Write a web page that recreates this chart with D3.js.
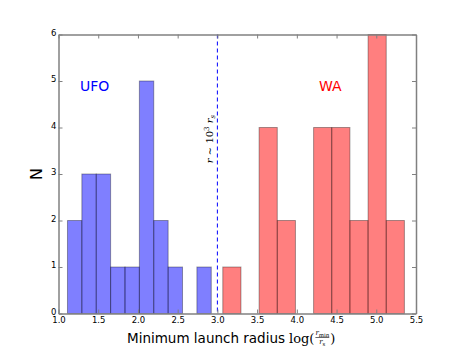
<!DOCTYPE html>
<html>
<head>
<meta charset="utf-8">
<script src="https://cdn.jsdelivr.net/npm/d3@7"></script>
<style>
  body { margin: 0; background: #fff; }
  svg { display: block; }
  text { font-family: "DejaVu Sans", sans-serif; }
</style>
</head>
<body>
<svg id="chart" width="463" height="348"></svg>
<script>
// histogram bins
var ufoStart = 1.113, ufoWidth = 0.181;
var ufoCounts = [2, 3, 3, 1, 1, 5, 2, 1, 0, 1];
var waStart = 3.068, waWidth = 0.2286;
var waCounts = [1, 0, 4, 2, 0, 4, 4, 2, 6, 2];
var xTicks = [1.0, 1.5, 2.0, 2.5, 3.0, 3.5, 4.0, 4.5, 5.0, 5.5];
var yTicks = [0, 1, 2, 3, 4, 5, 6];
var threshold = 3.0;

var margin = { top: 34.5, right: 47, bottom: 34.5, left: 58.5 };
var width = 463, height = 348;

var svg = d3.select("#chart");

var x = d3.scaleLinear().domain([1.0, 5.5]).range([margin.left, width - margin.right]);
var y = d3.scaleLinear().domain([0, 6]).range([height - margin.bottom, margin.top]);

function toBins(start, w, counts) {
  return counts.map(function (c, i) {
    return { x0: start + i * w, x1: start + (i + 1) * w, n: c };
  });
}

function drawBars(bins, color) {
  svg.append("g")
    .selectAll("rect")
    .data(bins.filter(function (d) { return d.n > 0; }))
    .join("rect")
    .attr("x", function (d) { return x(d.x0); })
    .attr("y", function (d) { return y(d.n); })
    .attr("width", function (d) { return x(d.x1) - x(d.x0); })
    .attr("height", function (d) { return y(0) - y(d.n); })
    .attr("fill", color)
    .attr("fill-opacity", 0.5)
    .attr("stroke", "#000")
    .attr("stroke-opacity", 0.35)
    .attr("stroke-width", 1);
}

drawBars(toBins(ufoStart, ufoWidth, ufoCounts), "#0000ff");
drawBars(toBins(waStart, waWidth, waCounts), "#ff0000");

// dashed threshold line
svg.append("line")
  .attr("x1", x(threshold)).attr("x2", x(threshold))
  .attr("y1", y(6)).attr("y2", y(0))
  .attr("stroke", "#0000ff")
  .attr("stroke-width", 1)
  .attr("stroke-dasharray", "4,3");

// rotated label r ~ 10^3 r_s
var rl = svg.append("text")
  .attr("transform", "translate(" + (x(threshold) - 4) + "," + 139 + ") rotate(-90)")
  .attr("text-anchor", "middle")
  .style("font-family", "'DejaVu Serif', serif")
  .style("font-size", "10px")
  .attr("fill", "#000");
rl.append("tspan").style("font-style", "italic").text("r");
rl.append("tspan").text(" \u223C 10");
rl.append("tspan").attr("dy", -4).style("font-size", "7px").text("3");
rl.append("tspan").attr("dy", 4).style("font-style", "italic").text(" r");
rl.append("tspan").attr("dy", 2).style("font-size", "7px").style("font-style", "italic").text("s");

// axes frame
var gx = svg.append("g")
  .attr("transform", "translate(0," + y(0) + ")")
  .call(d3.axisBottom(x).tickValues(xTicks).tickFormat(d3.format(".1f")).tickSizeInner(-4).tickSizeOuter(0).tickPadding(3));
var gxTop = svg.append("g")
  .attr("transform", "translate(0," + y(6) + ")")
  .call(d3.axisTop(x).tickValues(xTicks).tickFormat("").tickSizeInner(-4).tickSizeOuter(0));
var gy = svg.append("g")
  .attr("transform", "translate(" + x(1.0) + ",0)")
  .call(d3.axisLeft(y).tickValues(yTicks).tickFormat(d3.format("d")).tickSizeInner(-4).tickSizeOuter(0).tickPadding(2));
var gyR = svg.append("g")
  .attr("transform", "translate(" + x(5.5) + ",0)")
  .call(d3.axisRight(y).tickValues(yTicks).tickFormat("").tickSizeInner(-4).tickSizeOuter(0));

[gx, gxTop, gy, gyR].forEach(function (g) {
  g.select(".domain").attr("stroke", "#808080").attr("stroke-width", 1.5);
  g.selectAll(".tick line").attr("stroke", "#808080");
  g.selectAll(".tick text").attr("fill", "#000").style("font-size", "8.5px");
});
gy.selectAll(".tick text").attr("dy", "0.1em");

// series labels
svg.append("text").attr("x", 80).attr("y", 91).attr("fill", "#0000ff")
  .style("font-size", "14px").text("UFO");
svg.append("text").attr("x", 319).attr("y", 91).attr("fill", "#ff0000")
  .style("font-size", "14px").text("WA");

// y label
svg.append("text")
  .attr("transform", "translate(42," + ((y(0) + y(6)) / 2) + ") rotate(-90)")
  .attr("text-anchor", "middle")
  .style("font-size", "16px")
  .attr("fill", "#000")
  .text("N");

// x label with math part
var xl = svg.append("text")
  .attr("x", 127).attr("y", 343)
  .style("font-size", "13.5px")
  .attr("fill", "#000")
  .text("Minimum launch radius");
var mx = 127 + xl.node().getComputedTextLength() + 4;
var serif = "'DejaVu Serif', serif";
var lg = svg.append("text").attr("x", mx).attr("y", 343)
  .style("font-family", serif).style("font-size", "13px").text("log(");
var fx = mx + lg.node().getComputedTextLength() + 1;
var num = svg.append("text").attr("x", fx).attr("y", 335)
  .style("font-family", serif).style("font-size", "7px");
num.append("tspan").style("font-style", "italic").text("r");
num.append("tspan").attr("dy", 1.5).style("font-size", "5.5px").text("min");
var fw = num.node().getComputedTextLength();
svg.append("line").attr("x1", fx).attr("x2", fx + fw).attr("y1", 337.5).attr("y2", 337.5)
  .attr("stroke", "#000").attr("stroke-width", 0.6);
var den = svg.append("text").attr("x", fx + fw / 2).attr("y", 344).attr("text-anchor", "middle")
  .style("font-family", serif).style("font-size", "7px");
den.append("tspan").style("font-style", "italic").text("r");
den.append("tspan").attr("dy", 1.5).style("font-size", "5.5px").text("s");
svg.append("text").attr("x", fx + fw + 1).attr("y", 343)
  .style("font-family", serif).style("font-size", "13px").text(")");
</script>
</body>
</html>
